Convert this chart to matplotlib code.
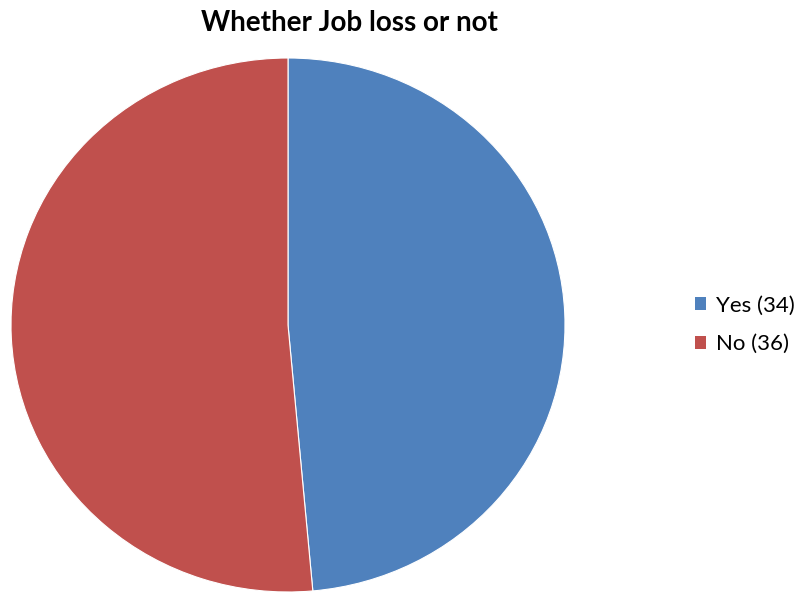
import matplotlib
matplotlib.use('Agg')
import matplotlib.pyplot as plt
from matplotlib.patches import Patch

# data
labels = ['Yes (34)', 'No (36)']
counts = [34, 36]
colors = ['#4F81BD', '#C0504D']
title = 'Whether Job loss or not'

plt.rcParams['font.family'] = ['Lato', 'DejaVu Sans']

fig = plt.figure(figsize=(8.01, 5.95), dpi=100)
ax = fig.add_axes([11 / 801, 1 - 592 / 595, 554 / 801, 534 / 595])
ax.pie(counts, colors=colors, startangle=90, counterclock=False,
       wedgeprops=dict(edgecolor='white', linewidth=0.8))
ax.set_aspect('auto')
ax.set_xlim(-1, 1)
ax.set_ylim(-1, 1)

fig.text(349 / 801, 1 - 23 / 595, title, ha='center', va='center',
         fontsize=20, fontweight='bold')

handles = [Patch(facecolor=c, edgecolor='none') for c in colors]
fig.legend(handles, labels, loc='center left',
           bbox_to_anchor=(695 / 801, 1 - 325 / 595), frameon=False,
           fontsize=16, handlelength=0.5, handleheight=0.5,
           handletextpad=0.45, labelspacing=0.84,
           borderaxespad=0, borderpad=0)

fig.savefig('out.png', dpi=100)
